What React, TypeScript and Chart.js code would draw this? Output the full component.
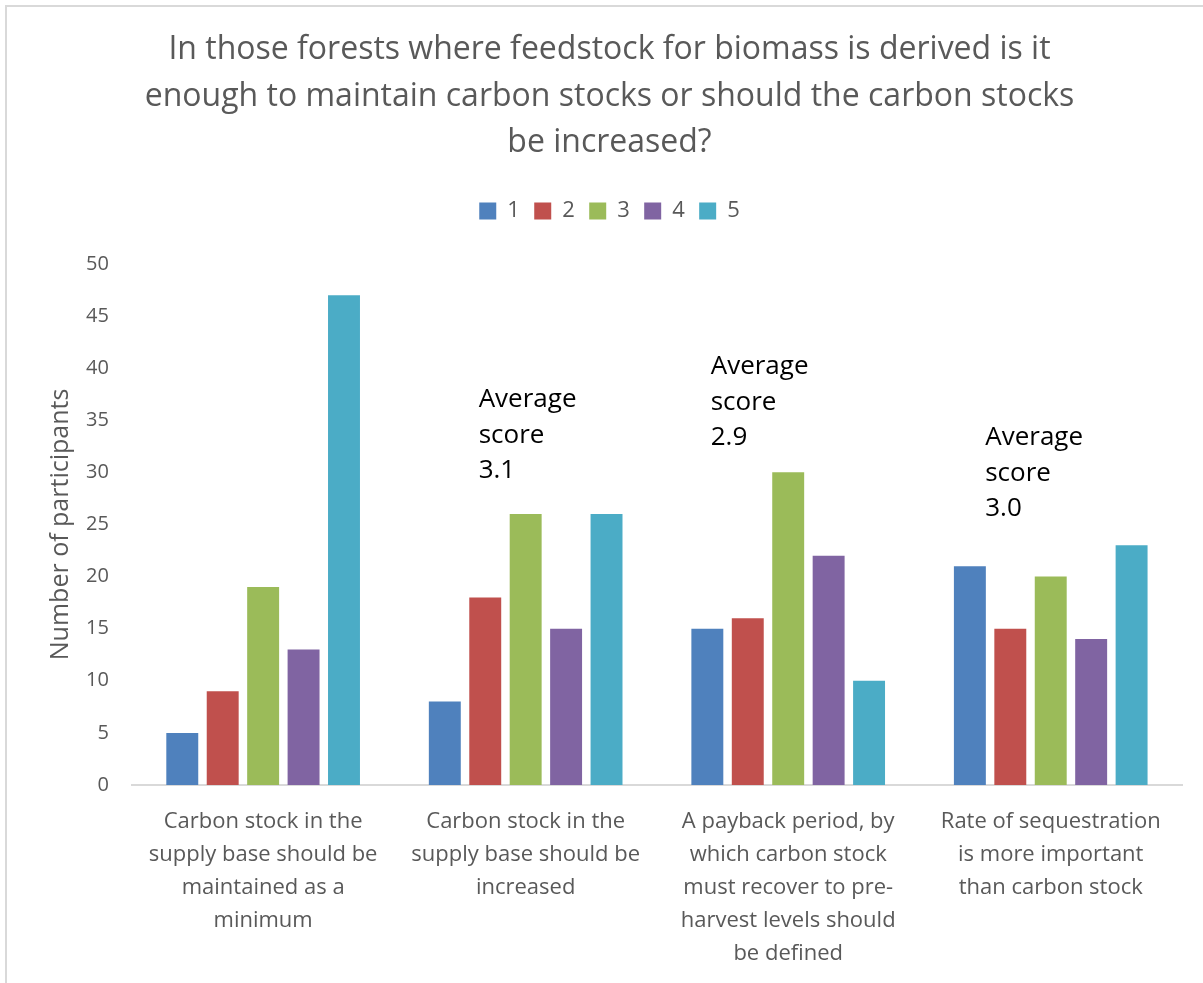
import React, { useEffect, useRef } from "react";
import { Chart, registerables } from "chart.js";

Chart.register(...registerables);

// Survey responses: number of participants giving each score (1–5) per statement
const categories: string[][] = [
  ["Carbon stock in the", "supply base should be", "maintained as a", "minimum"],
  ["Carbon stock in the", "supply base should be", "increased"],
  ["A payback period, by", "which carbon stock", "must recover to pre-", "harvest levels should", "be defined"],
  ["Rate of sequestration", "is more important", "than carbon stock"],
];

const seriesNames = ["1", "2", "3", "4", "5"];
const score1 = [5, 8, 15, 21];
const score2 = [9, 18, 16, 15];
const score3 = [19, 26, 30, 20];
const score4 = [13, 15, 22, 14];
const score5 = [47, 26, 10, 23];

const yTicks = [0, 5, 10, 15, 20, 25, 30, 35, 40, 45, 50];

// Average score notes shown above three of the groups
const averageCategory = [1, 2, 3];
const averageValues = ["3.1", "2.9", "3.0"];

const colors = ["#4F81BD", "#C0504D", "#9BBB59", "#8064A2", "#4BACC6"];
const FONT = "'Open Sans', 'Noto Sans', sans-serif";
const GREY = "#595959";

const averageNotes = {
  id: "averageNotes",
  afterDatasetsDraw(chart: any, _args: any, opts: any) {
    const { ctx, scales } = chart;
    const x = scales.x;
    const y = scales.y;
    ctx.save();
    ctx.fillStyle = "#000000";
    ctx.font = `26px ${FONT}`;
    ctx.textAlign = "left";
    ctx.textBaseline = "middle";
    averageCategory.forEach((cat, i) => {
      const place = opts.placement[i];
      const px = x.getPixelForValue(cat) + place.dx;
      const py = y.getPixelForValue(place.atValue);
      const lines = ["Average", "score", averageValues[i]];
      lines.forEach((t, k) => ctx.fillText(t, px, py + k * 35.5));
    });
    ctx.restore();
  },
};

// Leaves extra room between the legend row and the top of the plot
const legendGap = {
  id: "legendGap",
  beforeInit(chart: any, _args: any, opts: any) {
    const legend = chart.legend;
    if (!legend) return;
    const fit = legend.fit;
    legend.fit = function () {
      fit.call(this);
      this.height += opts.extra || 0;
    };
  },
};

export default function App() {
  const ref = useRef<HTMLCanvasElement | null>(null);

  useEffect(() => {
    if (!ref.current) return;
    const series = [score1, score2, score3, score4, score5];
    const chart = new Chart(ref.current, {
      type: "bar",
      data: {
        labels: categories,
        datasets: series.map((d, i) => ({
          label: seriesNames[i],
          data: d,
          backgroundColor: colors[i],
          borderWidth: 0,
          categoryPercentage: 0.77,
          barPercentage: 0.79,
        })),
      },
      options: {
        animation: false,
        responsive: false,
        maintainAspectRatio: false,
        layout: { padding: { left: 37, right: 21, top: 0, bottom: -7 } },
        plugins: {
          title: {
            display: true,
            text: [
              "In those forests where feedstock for biomass is derived is it",
              "enough to maintain carbon stocks or should the carbon stocks",
              "be increased?",
            ],
            color: GREY,
            font: { family: FONT, size: 32, weight: "normal", lineHeight: 1.453 },
            padding: { top: 27, bottom: 19 },
          },
          legend: {
            display: true,
            position: "top",
            labels: {
              color: GREY,
              font: { family: FONT, size: 22 },
              boxWidth: 17,
              boxHeight: 17,
              padding: 14.4,
            },
          },
          legendGap: { extra: 32 },
          tooltip: { enabled: false },
          averageNotes: {
            placement: [
              { dx: -47, atValue: 36.95 },
              { dx: -77.5, atValue: 40.1 },
              { dx: -65.5, atValue: 33.3 },
            ],
          },
        } as any,
        scales: {
          x: {
            grid: { display: false, drawTicks: false },
            border: { display: true, color: "#D9D9D9", width: 2 },
            ticks: {
              color: GREY,
              font: { family: FONT, size: 22, lineHeight: 1.5 },
              padding: 20,
              maxRotation: 0,
              autoSkip: false,
            },
          },
          y: {
            min: 0,
            max: 50,
            afterBuildTicks: (axis: any) => {
              axis.ticks = yTicks.map((v) => ({ value: v }));
            },
            grid: { display: false, drawTicks: false },
            border: { display: false },
            ticks: {
              color: GREY,
              font: { family: FONT, size: 20 },
              padding: 23,
            },
            title: {
              display: true,
              text: "Number of participants",
              color: GREY,
              font: { family: FONT, size: 25 },
              padding: { top: 9, bottom: -13 },
            },
          },
        },
      },
      plugins: [averageNotes, legendGap],
    });
    return () => chart.destroy();
  }, []);

  return (
    <div
      style={{
        position: "fixed",
        left: 0,
        top: 0,
        width: 1203,
        height: 983,
        background: "#ffffff",
        overflow: "hidden",
      }}
    >
      <div
        style={{
          position: "absolute",
          left: 5,
          top: 5,
          width: 1300,
          height: 1100,
          border: "2px solid #D9D9D9",
          boxSizing: "border-box",
        }}
      />
      <canvas
        ref={ref}
        width={1203}
        height={983}
        style={{ position: "absolute", left: 0, top: 0, width: 1203, height: 983 }}
      />
    </div>
  );
}
